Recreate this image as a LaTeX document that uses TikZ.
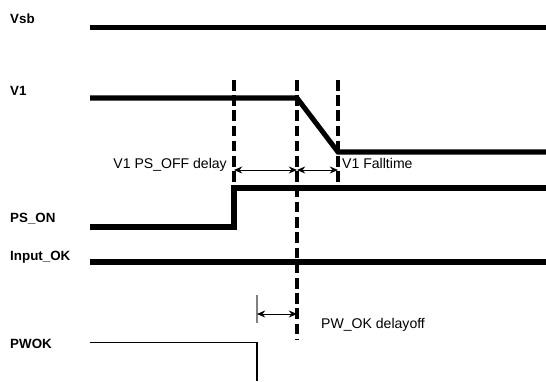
\documentclass[tikz,border=0pt]{standalone}
\usepackage{fontspec}
\setmainfont{Liberation Sans}
\usetikzlibrary{arrows.meta}
\begin{document}
\begin{tikzpicture}[x=0.03cm,y=-0.03cm,font=\fontsize{12}{14}\selectfont]
  \definecolor{tickgray}{HTML}{808080}
  \tikzset{
    sig/.style={line width=4.3pt},
    marker/.style={line width=2.6pt,dash pattern=on 9pt off 4pt},
    span/.style={{Stealth[length=7pt,width=6pt]}-{Stealth[length=7pt,width=6pt]},line width=0.8pt},
    siglabel/.style={anchor=base west,inner sep=0pt,font=\bfseries\fontsize{11.4}{13}\selectfont},
    note/.style={inner sep=0pt}
  }
  \path[use as bounding box] (0,0) rectangle (546,381);
  % signal names
  \foreach \id/\txt/\y in {vsb/Vsb/23, v1/V1/95, pson/PS\_ON/222,
      inok/Input\_OK/260, pwok/PWOK/348}{
    \node[siglabel] (lbl-\id) at (10,\y) {\txt};
  }
  % event times
  \coordinate (t-on)   at (234,0);
  \coordinate (t-fall) at (297,0);
  \coordinate (t-low)  at (338,0);
  \coordinate (t-pw)   at (257,0);
  % waveforms
  \draw[sig] (90,27.5) -- (546,27.5);
  \draw[sig] (90,98) -- (t-fall |- 0,98) -- (t-low |- 0,152) -- (546,152);
  \draw[sig] (90,227) -- (t-on |- 0,227) -- (t-on |- 0,188) -- (546,188);
  \draw[sig] (90,262) -- (546,262);
  \draw[line width=1pt] (90,342.5) -- (t-pw |- 0,342.5) -- (t-pw |- 0,381);
  % dashed markers
  \draw[marker] (t-on |- 0,80) -- (t-on |- 0,188);
  \draw[marker] (t-fall |- 0,80) -- (t-fall |- 0,340);
  \draw[marker] (t-low |- 0,80) -- (t-low |- 0,185);
  % delays
  \coordinate (d-off-a) at (t-on |- 0,170);
  \coordinate (d-off-b) at (t-fall |- 0,170);
  \coordinate (d-fall-b) at (t-low |- 0,170);
  \draw[span] (d-off-a) -- (d-off-b);
  \draw[span] (d-off-b) -- (d-fall-b);
  \draw[tickgray,line width=0.9pt] (t-pw |- 0,295) -- (t-pw |- 0,323);
  \coordinate (d-pw-a) at (t-pw |- 0,314);
  \coordinate (d-pw-b) at (t-fall |- 0,314);
  \draw[span] (d-pw-a) -- (d-pw-b);
  \node[note,anchor=base east] (txt-off) at (227,168.5) {V1 PS\_OFF delay};
  \node[note,anchor=base west] (txt-fall) at (342,168) {V1 Falltime};
  \node[note,anchor=base west] (txt-pw) at (321,328) {PW\_OK delayoff};
\end{tikzpicture}
\end{document}
